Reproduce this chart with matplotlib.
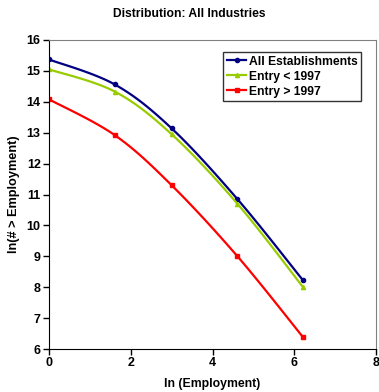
import numpy as np
import matplotlib
matplotlib.use("Agg")
from matplotlib import pyplot as plt

plt.rcParams['font.family'] = ['Liberation Sans', 'DejaVu Sans']
plt.rcParams['font.weight'] = 'bold'

# ln of employment size thresholds (1, 5, 20, 100, 500)
ln_employment = [0.0, 1.61, 3.0, 4.61, 6.21]
all_establishments = [15.37, 14.56, 13.14, 10.85, 8.23]
entry_before_1997 = [15.05, 14.33, 12.95, 10.70, 8.01]
entry_after_1997 = [14.08, 12.92, 11.30, 9.00, 6.39]

series_names = ['All Establishments', 'Entry < 1997', 'Entry > 1997']
series_colors = ['#000080', '#99CC00', '#FF0000']
series_markers = ['o', '^', 's']


def smooth_curve(xs, ys, steps=30):
    # Bezier segments with Catmull-Rom style control points (spreadsheet "smoothed line")
    xs = np.asarray(xs, float)
    ys = np.asarray(ys, float)
    px = np.concatenate([[xs[0]], xs, [xs[-1]]])
    py = np.concatenate([[ys[0]], ys, [ys[-1]]])
    out_x, out_y = [], []
    t = np.linspace(0, 1, steps)
    for i in range(1, len(px) - 2):
        p0 = np.array([px[i], py[i]])
        p3 = np.array([px[i + 1], py[i + 1]])
        p1 = p0 + (np.array([px[i + 1], py[i + 1]]) - np.array([px[i - 1], py[i - 1]])) / 6
        p2 = p3 - (np.array([px[i + 2], py[i + 2]]) - np.array([px[i], py[i]])) / 6
        b = ((1 - t) ** 3)[:, None] * p0 + (3 * (1 - t) ** 2 * t)[:, None] * p1 \
            + (3 * (1 - t) * t ** 2)[:, None] * p2 + (t ** 3)[:, None] * p3
        out_x.extend(b[:, 0])
        out_y.extend(b[:, 1])
    return out_x, out_y


fig = plt.figure(figsize=(3.79, 3.92), dpi=100)
ax = fig.add_axes([49 / 379, 1 - 349 / 392, 327 / 379, 309 / 392])

for ys, name, color, marker in zip([all_establishments, entry_before_1997, entry_after_1997],
                                   series_names, series_colors, series_markers):
    sx, sy = smooth_curve(ln_employment, ys)
    ax.plot(sx, sy, color=color, lw=1.6)
    ax.plot(ln_employment, ys, linestyle='none', marker=marker, color=color, markersize=3)
    # legend proxy
    ax.plot([], [], color=color, lw=1.6, marker=marker, markersize=3, label=name)

ax.set_xlim(0, 8)
ax.set_ylim(6, 16)
ax.set_xticks([0, 2, 4, 6, 8])
ax.set_yticks(range(6, 17))
ax.tick_params(labelsize=9, direction='out', length=4, width=1, pad=2)
for lab in ax.get_xticklabels() + ax.get_yticklabels():
    lab.set_fontweight('bold')

ax.spines['left'].set_color('black')
ax.spines['bottom'].set_color('black')
ax.spines['top'].set_color('#808080')
ax.spines['right'].set_color('#808080')
ax.tick_params(axis='both', which='both', top=False, right=False)

ax.set_xlabel('ln (Employment)', fontsize=8.8, fontweight='bold', labelpad=6)
ax.set_ylabel('ln(# > Employment)', fontsize=9.2, fontweight='bold', labelpad=5)
fig.text(0.5, 1 - 14 / 392, 'Distribution: All Industries', ha='center', va='center',
         fontsize=8.7, fontweight='bold')

leg = ax.legend(loc='upper right', bbox_to_anchor=(361 / 379, 1 - 52 / 392),
                bbox_transform=fig.transFigure, fontsize=8.7, frameon=True, fancybox=False,
                borderpad=0.3, handlelength=1.6, handletextpad=0.2, labelspacing=0.25,
                borderaxespad=0)
leg.get_frame().set_edgecolor('black')
leg.get_frame().set_linewidth(1)
for t in leg.get_texts():
    t.set_fontweight('bold')

fig.savefig('out.png', dpi=100)
